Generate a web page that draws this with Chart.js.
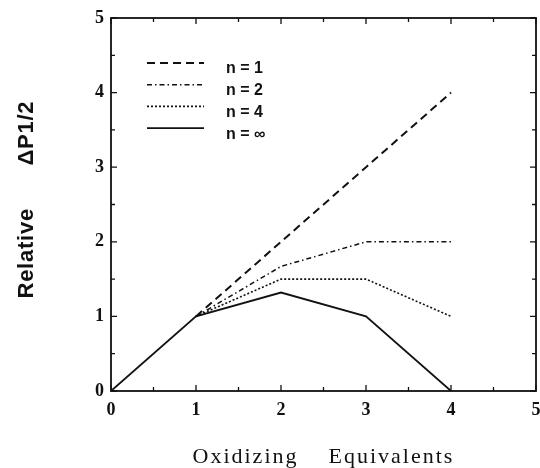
<!DOCTYPE html>
<html>
<head>
<meta charset="utf-8">
<title>Relative ΔP1/2 vs Oxidizing Equivalents</title>
<script src="https://cdn.jsdelivr.net/npm/chart.js@4/dist/chart.umd.min.js"></script>
<style>
  html, body { margin: 0; padding: 0; background: #fff; }
  canvas { display: block; }
</style>
</head>
<body>
<canvas id="chart" width="540" height="468"></canvas>
<script>
// values, one entry per oxidizing equivalent
const equivalents = [0, 1, 2, 3, 4];
const nOne = [null, 1, 2, 3, 4];
const nTwo = [null, 1, 1.67, 2, 2];
const nFour = [null, 1, 1.5, 1.5, 1];
const nInf = [0, 1, 1.32, 1, 0];

const seriesLabels = ["n = 1", "n = 2", "n = 4", "n = \u221e"];
const majorTicks = [0, 1, 2, 3, 4, 5];
const minorTicks = [0.5, 1.5, 2.5, 3.5, 4.5];

const INK = "#111";

function points(values) {
    return equivalents
        .map((x, i) => ({ x, y: values[i] }))
        .filter((p) => p.y !== null);
}

function series(label, values, dash, width) {
    return {
        label,
        data: points(values),
        borderColor: INK,
        borderWidth: width,
        borderDash: dash,
        pointRadius: 0,
        fill: false,
        tension: 0,
    };
}

// box frame with inward ticks on all four sides, plus the legend and titles
const decorations = {
    id: "decorations",
    afterDraw(chart) {
        const { ctx, chartArea: a, scales } = chart;
        const x = scales.x, y = scales.y;
        ctx.save();
        ctx.strokeStyle = INK;
        ctx.lineWidth = 1.8;
        ctx.strokeRect(a.left, a.top, a.right - a.left, a.bottom - a.top);

        ctx.lineWidth = 1.3;
        ctx.beginPath();
        const tick = (v, len) => {
            const px = x.getPixelForValue(v);
            ctx.moveTo(px, a.bottom); ctx.lineTo(px, a.bottom - len);
            ctx.moveTo(px, a.top); ctx.lineTo(px, a.top + len);
            const py = y.getPixelForValue(v);
            ctx.moveTo(a.left, py); ctx.lineTo(a.left + len, py);
            ctx.moveTo(a.right, py); ctx.lineTo(a.right - len, py);
        };
        majorTicks.forEach((v) => tick(v, 6));
        minorTicks.forEach((v) => tick(v, 4));
        ctx.stroke();

        // legend inside the plot, top-left
        chart.data.datasets.forEach((ds, i) => {
            const ly = a.top + 45 + i * 21.7;
            ctx.beginPath();
            ctx.setLineDash(ds.borderDash || []);
            ctx.lineWidth = ds.borderWidth;
            ctx.moveTo(a.left + 36, ly);
            ctx.lineTo(a.left + 93, ly);
            ctx.stroke();
            ctx.setLineDash([]);
            ctx.fillStyle = INK;
            ctx.font = "bold 16px 'Liberation Sans', Arial, sans-serif";
            ctx.textAlign = "left";
            ctx.textBaseline = "middle";
            ctx.fillText(ds.label, a.left + 115, ly + 6);
        });

        // x axis title
        const cx = (a.left + a.right) / 2;
        ctx.font = "22px 'Liberation Serif', 'Times New Roman', serif";
        ctx.letterSpacing = "2px";
        ctx.textBaseline = "alphabetic";
        ctx.fillText("Oxidizing", cx - 131, 463);
        ctx.fillText("Equivalents", cx + 5, 463);

        // y axis title, rotated
        const cy = (a.top + a.bottom) / 2;
        ctx.translate(33, cy);
        ctx.rotate(-Math.PI / 2);
        ctx.font = "bold 22px 'Liberation Sans', Arial, sans-serif";
        ctx.letterSpacing = "0.75px";
        ctx.fillText("Relative", -94, 0);
        ctx.fillText("\u0394P1/2", 39, 0);
        ctx.restore();
    },
};

const tickFont = { family: "'Liberation Serif', 'Times New Roman', serif", size: 18, weight: "bold" };

new Chart(document.getElementById("chart").getContext("2d"), {
    type: "line",
    data: {
        datasets: [
            series(seriesLabels[0], nOne, [8, 5], 2),
            series(seriesLabels[1], nTwo, [5, 3, 1.5, 3], 1.5),
            series(seriesLabels[2], nFour, [2, 2], 1.6),
            series(seriesLabels[3], nInf, [], 1.8),
        ],
    },
    options: {
        responsive: false,
        animation: false,
        layout: { padding: { top: 18, right: 4, left: 0, bottom: 0 } },
        plugins: { legend: { display: false }, tooltip: { enabled: false } },
        scales: {
            x: {
                type: "linear",
                min: 0,
                max: 5,
                grid: { display: false, drawTicks: false },
                border: { display: false },
                ticks: { stepSize: 1, color: INK, font: tickFont, padding: 9, maxRotation: 0 },
                afterFit: (s) => { s.height = 77; s.paddingLeft = 0; s.paddingRight = 0; },
            },
            y: {
                type: "linear",
                min: 0,
                max: 5,
                grid: { display: false, drawTicks: false },
                border: { display: false },
                ticks: { stepSize: 1, color: INK, font: tickFont, padding: 7 },
                afterFit: (s) => { s.width = 111; s.paddingTop = 0; s.paddingBottom = 0; },
            },
        },
    },
    plugins: [decorations],
});
</script>
</body>
</html>
